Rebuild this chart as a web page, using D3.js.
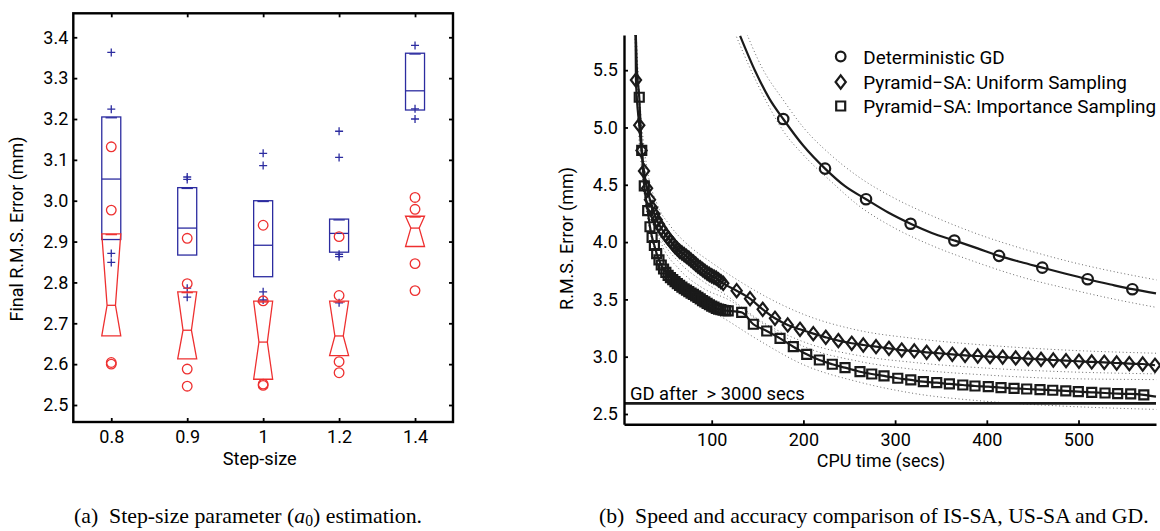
<!DOCTYPE html>
<html><head><meta charset="utf-8">
<script src="https://cdn.jsdelivr.net/npm/d3@7"></script>
<style>
body{margin:0;background:#fff}
svg{display:block}
text{font-family:Roboto,"Noto Sans",sans-serif;fill:#000}
</style>
</head><body>
<svg id="c" width="1160" height="531"></svg>
<script>
// ================= DATA: panel (a) step-size boxplots =================
const stepSizes = ["0.8", "0.9", "1", "1.2", "1.4"];
const errTicksA = [2.5, 2.6, 2.7, 2.8, 2.9, 3.0, 3.1, 3.2, 3.3, 3.4];
const blueQ1  = [2.905, 2.867, 2.814, 2.874, 3.222];
const blueMed = [3.053, 2.933, 2.891, 2.920, 3.269];
const blueQ3  = [3.205, 3.032, 3.000, 2.955, 3.361];
const blueOutliers = [
  [3.363, 3.224, 2.871, 2.849],
  [3.058, 3.052, 2.786, 2.764],
  [3.116, 3.086, 2.777, 2.757],
  [3.170, 3.106, 2.869, 2.863, 2.750],
  [3.380, 3.225, 3.200]
];
const redQ1  = [2.669, 2.613, 2.563, 2.621, 2.888];
const redMed = [2.744, 2.683, 2.654, 2.669, 2.933];
const redQ3  = [2.919, 2.777, 2.754, 2.754, 2.962];
const redOutliers = [
  [3.132, 2.977, 2.604, 2.600],
  [2.908, 2.797, 2.588, 2.546],
  [2.940, 2.755, 2.551, 2.548],
  [2.912, 2.768, 2.606, 2.579],
  [3.008, 2.979, 2.846, 2.780]
];

// ================= DATA: panel (b) speed / accuracy =================
const timeTicks = [100, 200, 300, 400, 500];
const errTicksB = [2.5, 3.0, 3.5, 4.0, 4.5, 5.0, 5.5];
const legendLabels = ["Deterministic GD", "Pyramid\u2212SA: Uniform Sampling", "Pyramid\u2212SA: Importance Sampling"];

// Deterministic GD: line and circle markers
const gdLineT = [131, 147, 163, 178, 200, 223.6, 245, 268.3, 292, 316.9, 340, 364.6, 390, 413.3, 437, 460.5, 485, 510, 535, 558.7, 584.5];
const gdLineE = [5.80, 5.50, 5.25, 5.074, 4.84, 4.641, 4.49, 4.374, 4.26, 4.160, 4.08, 4.014, 3.945, 3.880, 3.826, 3.777, 3.726, 3.676, 3.63, 3.589, 3.553];
const gdMarkT = [178, 223.6, 268.3, 316.9, 364.6, 413.3, 460.5, 510, 558.7];
const gdMarkE = [5.074, 4.641, 4.374, 4.160, 4.014, 3.880, 3.777, 3.676, 3.589];
const gdUpT = [134, 155, 178, 200, 230, 260, 300, 340, 390, 440, 490, 540, 585];
const gdUpE = [5.90, 5.52, 5.24, 5.00, 4.76, 4.57, 4.38, 4.23, 4.07, 3.94, 3.83, 3.74, 3.67];
const gdLoT = [124, 140, 160, 178, 200, 230, 260, 300, 340, 390, 440, 490, 540, 585];
const gdLoE = [5.85, 5.55, 5.22, 4.97, 4.76, 4.53, 4.32, 4.12, 3.97, 3.82, 3.69, 3.59, 3.50, 3.43];

// Pyramid-SA uniform sampling (diamonds)
const usLeadT = [16.9];
const usLeadE = [5.9];
const usT = [17.4, 21, 23.5, 26.2, 29.5, 32.7, 35, 37.5, 40, 42.5, 45, 47.5, 50, 52.5, 55, 57.5, 60, 62.5, 65, 67.5, 70, 72.5, 75, 77.5, 80, 82.5, 85, 87.5, 90, 92.5, 95, 97.5, 100, 102.5, 105, 107.5, 110, 112.6,
  127.2, 141.8, 155.6, 169, 182.9, 196.3, 210.8, 224.4, 238.1, 252.7, 265.3, 279.2, 293.3, 307.2, 320.9, 334.4, 348.2, 362.4, 376.3, 390.1, 403.5, 417.3, 431.5, 445.2, 459.1, 472.5, 486.4, 500.5, 514.4, 528.1, 541.6, 555.4, 570, 583.4];
const usE = [5.414, 5.02, 4.80, 4.62, 4.47, 4.37, 4.30, 4.245, 4.195, 4.155, 4.12, 4.09, 4.06, 4.035, 4.01, 3.985, 3.96, 3.94, 3.92, 3.905, 3.89, 3.875, 3.86, 3.842, 3.825, 3.808, 3.79, 3.775, 3.76, 3.745, 3.73, 3.717, 3.705, 3.695, 3.685, 3.67, 3.655, 3.640,
  3.576, 3.506, 3.413, 3.335, 3.277, 3.239, 3.201, 3.169, 3.140, 3.117, 3.102, 3.087, 3.073, 3.058, 3.050, 3.038, 3.030, 3.021, 3.012, 3.006, 3.000, 2.997, 2.989, 2.983, 2.977, 2.971, 2.965, 2.960, 2.954, 2.951, 2.945, 2.939, 2.936, 2.925];
const usUpT = [16.9, 19, 24, 30, 40, 55, 75, 100, 130, 160, 200, 260, 320, 400, 480, 585];
const usUpE = [5.9, 5.55, 5.0, 4.62, 4.34, 4.14, 3.97, 3.82, 3.66, 3.52, 3.37, 3.23, 3.16, 3.10, 3.06, 3.03];
const usLoT = [16.2, 18, 21, 26, 33, 45, 65, 90, 115, 150, 200, 260, 320, 400, 480, 585];
const usLoE = [5.9, 5.55, 5.0, 4.6, 4.27, 4.03, 3.82, 3.66, 3.54, 3.33, 3.13, 3.01, 2.95, 2.90, 2.87, 2.85];

// Pyramid-SA importance sampling (squares)
const isLeadT = [16.9, 18.2];
const isLeadE = [5.9, 5.55];
const isT = [21, 23.7, 26.5, 30.2, 32.7, 35, 37.5, 40, 42.5, 45, 47.5, 50, 52.5, 55, 57.5, 60, 62.5, 65, 67.5, 70, 72.5, 75, 77.5, 80, 82.5, 85, 87.5, 90, 92.5, 95, 97.5, 100, 102.5, 105, 107.5, 110, 112.5, 115, 118,
  132.7, 145.4, 160, 174.5, 189, 203.6, 217.4, 231.5, 245.4, 261.7, 274.5, 287.9, 302.9, 317.1, 330.8, 345.4, 359.2, 373.8, 387.1, 401.6, 415.5, 429.7, 443.5, 458, 471.9, 486.1, 499.8, 514.4, 528.9, 542.7, 556.9, 571.2];
const isE = [5.264, 4.80, 4.49, 4.274, 4.134, 4.04, 3.97, 3.90, 3.845, 3.80, 3.765, 3.735, 3.71, 3.69, 3.672, 3.655, 3.638, 3.622, 3.607, 3.593, 3.58, 3.567, 3.555, 3.543, 3.53, 3.517, 3.505, 3.49, 3.478, 3.465, 3.453, 3.442, 3.432, 3.422, 3.415, 3.41, 3.405, 3.402, 3.40,
  3.387, 3.283, 3.224, 3.16, 3.087, 3.021, 2.971, 2.934, 2.904, 2.869, 2.849, 2.832, 2.812, 2.797, 2.782, 2.773, 2.762, 2.753, 2.744, 2.738, 2.730, 2.724, 2.718, 2.712, 2.707, 2.701, 2.695, 2.689, 2.683, 2.677, 2.675, 2.666];
const isTailT = [584.5];
const isTailE = [2.651];
const isUpT = [17.3, 19.5, 23, 28, 35, 45, 65, 90, 120, 150, 200, 260, 320, 400, 480, 585];
const isUpE = [5.9, 5.5, 5.0, 4.6, 4.24, 3.99, 3.76, 3.60, 3.49, 3.32, 3.09, 2.96, 2.89, 2.84, 2.81, 2.80];
const isLoT = [15.8, 17.5, 20, 24, 29, 38, 55, 80, 110, 150, 200, 260, 320, 400, 480, 585];
const isLoE = [5.9, 5.5, 5.0, 4.6, 4.26, 3.92, 3.66, 3.48, 3.35, 3.15, 2.93, 2.78, 2.68, 2.61, 2.57, 2.54];

const gdFinal = 2.593; // GD after > 3000 secs

// ================= DRAWING =================
const svg = d3.select("#c");
const BLUE = "#2c2ca0", RED = "#ee3030", INK = "#1a1a1a";
const TICK_FS = 18;

function fit(sel, target) {
  const w = sel.node().getComputedTextLength();
  const fs = parseFloat(sel.attr("font-size"));
  sel.attr("font-size", (fs * target / w).toFixed(2));
  return sel;
}

// ---------- panel (a) ----------
const xA = d3.scalePoint().domain(stepSizes).range([73.3, 453]).padding(0.5);
const yA = d3.scaleLinear().domain([2.4584, 3.4587]).range([422, 13.3]);
const gA = svg.append("g");

function styleAxis(g) {
  g.selectAll(".tick line").attr("stroke", "#000").attr("stroke-width", 1.8);
  g.selectAll(".tick text").attr("font-size", TICK_FS).attr("font-family", "Roboto").attr("fill", "#000");
  g.select(".domain").remove();
}
gA.append("g").attr("transform", `translate(${xA.range()[0]},0)`)
  .call(d3.axisLeft(yA).tickValues(errTicksA).tickFormat(d3.format(".1f")).tickSize(-4).tickPadding(5).tickSizeOuter(0))
  .call(styleAxis);
gA.append("g").attr("transform", `translate(${xA.range()[1]},0)`)
  .call(d3.axisRight(yA).tickValues(errTicksA).tickFormat("").tickSize(-4).tickSizeOuter(0))
  .call(styleAxis);
gA.append("g").attr("transform", `translate(0,${yA.range()[0]})`)
  .call(d3.axisBottom(xA).tickSize(-4).tickPadding(8.5).tickSizeOuter(0))
  .call(styleAxis);
gA.append("g").attr("transform", `translate(0,${yA.range()[1]})`)
  .call(d3.axisTop(xA).tickFormat("").tickSize(-4).tickSizeOuter(0))
  .call(styleAxis);
gA.append("rect")
  .attr("x", xA.range()[0]).attr("y", yA.range()[1])
  .attr("width", xA.range()[1] - xA.range()[0]).attr("height", yA.range()[0] - yA.range()[1])
  .attr("fill", "none").attr("stroke", "#000").attr("stroke-width", 2.4);

const bw = 9.5, nw = 4.2;
stepSizes.forEach((s, i) => {
  const cx = xA(s);
  // blue box
  const gb = gA.append("g").attr("stroke", BLUE).attr("stroke-width", 1.3).attr("fill", "none");
  gb.append("rect").attr("x", cx - bw).attr("y", yA(blueQ3[i])).attr("width", 2 * bw).attr("height", yA(blueQ1[i]) - yA(blueQ3[i]));
  gb.append("line").attr("x1", cx - bw).attr("x2", cx + bw).attr("y1", yA(blueMed[i])).attr("y2", yA(blueMed[i]));
  gb.append("line").attr("x1", cx - bw * 0.6).attr("x2", cx + bw * 0.6).attr("y1", yA(blueQ3[i]) + 0.8).attr("y2", yA(blueQ3[i]) + 0.8);
  blueOutliers[i].forEach(v => {
    const y = yA(v);
    gb.append("path").attr("d", `M${cx - 4},${y}H${cx + 4}M${cx},${y - 4}V${y + 4}`);
  });
  // red notched box
  const gr = gA.append("g").attr("stroke", RED).attr("stroke-width", 1.3).attr("fill", "none");
  const t = yA(redQ3[i]), m = yA(redMed[i]), b = yA(redQ1[i]);
  gr.append("path").attr("d", `M${cx - bw},${t}L${cx + bw},${t}L${cx + nw},${m}L${cx + bw},${b}L${cx - bw},${b}L${cx - nw},${m}Z`);
  gr.append("line").attr("x1", cx - nw).attr("x2", cx + nw).attr("y1", m).attr("y2", m);
  gr.append("line").attr("x1", cx - bw * 0.6).attr("x2", cx + bw * 0.6).attr("y1", t + 0.8).attr("y2", t + 0.8);
  redOutliers[i].forEach(v => {
    gr.append("circle").attr("cx", cx).attr("cy", yA(v)).attr("r", 4.8);
  });
});

fit(gA.append("text").attr("transform", "translate(16,229) rotate(-90)").attr("text-anchor", "middle")
  .attr("dominant-baseline", "central").attr("font-size", 16).text("Final R.M.S. Error (mm)"), 185);
fit(gA.append("text").attr("x", 259.7).attr("y", 465).attr("text-anchor", "middle").attr("font-size", 16).text("Step-size"), 74);

// caption (a)
const capA = svg.append("text").attr("x", 248).attr("y", 523).attr("text-anchor", "middle")
  .style("font-family", "'Liberation Serif','Times New Roman',serif").attr("font-size", 16);
capA.append("tspan").text("(a)\u00a0 Step-size parameter (");
capA.append("tspan").attr("font-style", "italic").text("a");
capA.append("tspan").attr("font-size", "72%").attr("dy", "0.22em").text("0");
capA.append("tspan").attr("dy", "-0.16em").text(") estimation.");
fit(capA, 348);

// ---------- panel (b) ----------
const xB = d3.scaleLinear().domain([4.36, 584.5]).range([624, 1156]);
const yB = d3.scaleLinear().domain([2.41, 5.807]).range([424.3, 35]);
const gB = svg.append("g");

svg.append("defs").append("clipPath").attr("id", "clipB").append("rect")
  .attr("x", 624).attr("y", 35).attr("width", 540).attr("height", 390);

const plot = gB.append("g").attr("clip-path", "url(#clipB)");
const line = d3.line().x(d => xB(d[0])).y(d => yB(d[1])).curve(d3.curveMonotoneX);
const zipPts = (t, e) => t.map((v, k) => [v, e[k]]);

// dotted bands
[[gdUpT, gdUpE], [gdLoT, gdLoE], [usUpT, usUpE], [usLoT, usLoE], [isUpT, isUpE], [isLoT, isLoE]].forEach(([t, e]) => {
  plot.append("path").attr("d", line(zipPts(t, e))).attr("fill", "none")
    .attr("stroke", "#6a6a6a").attr("stroke-width", 1).attr("stroke-dasharray", "1,2.6");
});

// GD after >3000 s reference line
plot.append("line").attr("x1", xB.range()[0]).attr("x2", xB.range()[1])
  .attr("y1", yB(gdFinal)).attr("y2", yB(gdFinal)).attr("stroke", INK).attr("stroke-width", 2.6);

// solid lines
const solid = [
  zipPts(gdLineT, gdLineE),
  zipPts(usLeadT, usLeadE).concat(zipPts(usT, usE)),
  zipPts(isLeadT, isLeadE).concat(zipPts(isT, isE)).concat(zipPts(isTailT, isTailE))
];
solid.forEach(pts => {
  plot.append("path").attr("d", line(pts)).attr("fill", "none").attr("stroke", INK).attr("stroke-width", 2.2);
});

// markers
const diamond = "M0,-6.6L5.1,0L0,6.6L-5.1,0Z";
const square = "M-4.5,-4.5H4.5V4.5H-4.5Z";
function markers(t, e, kind) {
  const g = plot.append("g").attr("fill", "none").attr("stroke", INK).attr("stroke-width", 2.2);
  t.forEach((v, k) => {
    const x = xB(v), y = yB(e[k]);
    if (kind === "c") g.append("circle").attr("cx", x).attr("cy", y).attr("r", 5.2);
    else g.append("path").attr("transform", `translate(${x},${y})`).attr("d", kind === "d" ? diamond : square);
  });
}
markers(isT, isE, "s");
markers(usT, usE, "d");
markers(gdMarkT, gdMarkE, "c");

// axes
function styleAxisB(g) {
  g.selectAll(".tick line").attr("stroke", "#000").attr("stroke-width", 1.8);
  g.selectAll(".tick text").attr("font-size", TICK_FS).attr("font-family", "Roboto").attr("fill", "#000");
  g.select(".domain").attr("stroke", "#000").attr("stroke-width", 2.4);
}
gB.append("g").attr("transform", `translate(${xB.range()[0]},0)`)
  .call(d3.axisLeft(yB).tickValues(errTicksB).tickFormat(d3.format(".1f")).tickSize(-4).tickPadding(6.2).tickSizeOuter(0))
  .call(styleAxisB);
gB.append("g").attr("transform", `translate(0,${yB.range()[0]})`)
  .call(d3.axisBottom(xB).tickValues(timeTicks).tickSize(-4).tickPadding(9.2).tickSizeOuter(0))
  .call(styleAxisB);

fit(gB.append("text").attr("transform", "translate(566,238.5) rotate(-90)").attr("text-anchor", "middle")
  .attr("dominant-baseline", "central").attr("font-size", 16).text("R.M.S. Error (mm)"), 143);
fit(gB.append("text").attr("x", 881).attr("y", 467).attr("text-anchor", "middle").attr("font-size", 16).text("CPU time (secs)"), 128.5);
fit(gB.append("text").attr("x", 630).attr("y", 400).attr("font-size", 16).style("white-space", "pre").text("GD after  > 3000 secs"), 175);

// legend
const legY = [64, 89, 113];
const legG = gB.append("g");
const legTexts = legendLabels.map((s, k) => legG.append("text").attr("x", 863.3).attr("y", legY[k]).attr("font-size", 18).text(s));
fit(legTexts[2], 293);
legTexts[0].attr("font-size", legTexts[2].attr("font-size"));
legTexts[1].attr("font-size", legTexts[2].attr("font-size"));
const lm = legG.append("g").attr("fill", "none").attr("stroke", INK).attr("stroke-width", 2.2);
lm.append("circle").attr("cx", 840.7).attr("cy", 56.5).attr("r", 4.8);
lm.append("path").attr("transform", "translate(840.7,82)").attr("d", diamond);
lm.append("path").attr("transform", "translate(840.7,106)").attr("d", square);

// caption (b)
const capB = svg.append("text").attr("x", 873.8).attr("y", 523).attr("text-anchor", "middle")
  .style("font-family", "'Liberation Serif','Times New Roman',serif").attr("font-size", 16)
  .text("(b)\u00a0 Speed and accuracy comparison of IS-SA, US-SA and GD.");
fit(capB, 550);
</script>
</body></html>
